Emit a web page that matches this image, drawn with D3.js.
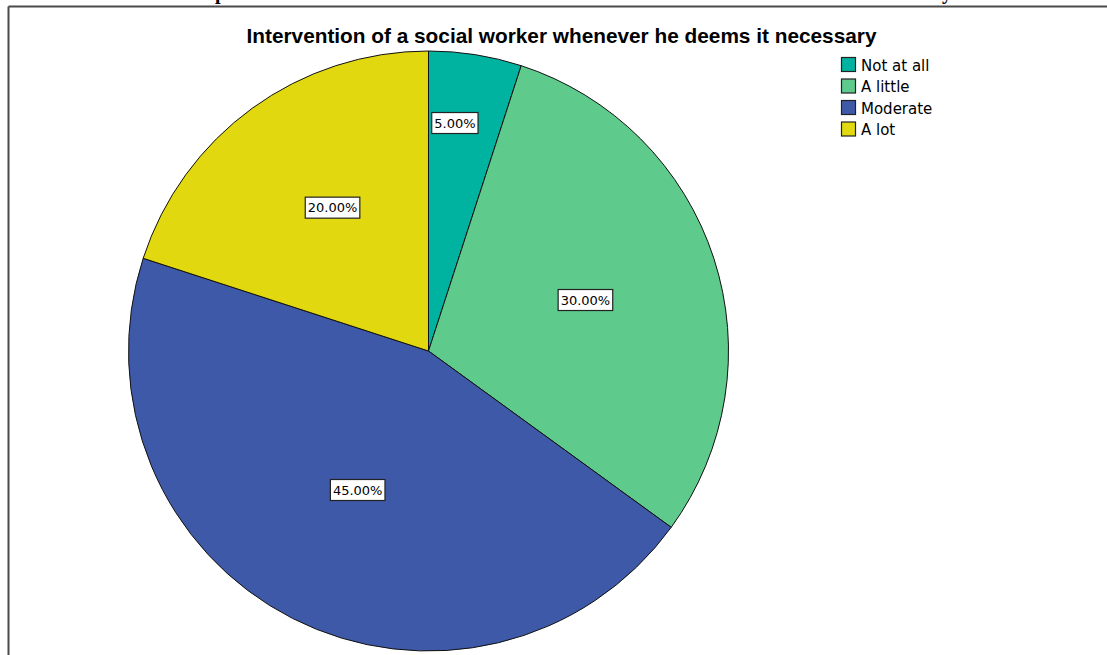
<!DOCTYPE html>
<html>
<head>
<meta charset="utf-8">
<script src="https://cdn.jsdelivr.net/npm/d3@7"></script>
<style>
  html, body { margin: 0; padding: 0; background: #fff; }
  svg { display: block; }
</style>
</head>
<body>
<svg id="chart" width="1107" height="655"></svg>
<script>
// Chart data
const title = "Intervention of a social worker whenever he deems it necessary";
const categories = ["Not at all", "A little", "Moderate", "A lot"];
const percents = [5, 30, 45, 20];
const colors = ["#00b3a0", "#5eca8c", "#3e59a8", "#e2d80f"];

// Label placement per slice: distance from centre (fraction of radius)
// and a small angular nudge (degrees) from the slice's mid-angle
const labelRadiusFrac = [0.765, 0.55, 0.52, 0.575];
const labelAngleNudge = [-2.4, 0, 0, 2.2];

const W = 1107, H = 655;
const svg = d3.select("#chart");

// Frame of the embedded chart
svg.append("line").attr("x1", 8.5).attr("y1", 6.5).attr("x2", W + 2).attr("y2", 6.5)
  .attr("stroke", "#4a4a4a").attr("stroke-width", 2);
svg.append("line").attr("x1", 8.5).attr("y1", 6.5).attr("x2", 8.5).attr("y2", H + 2)
  .attr("stroke", "#4a4a4a").attr("stroke-width", 2);

// Descenders of the line of body text just above the frame
svg.append("text").attr("x", 215).attr("y", -1).text("p")
  .attr("font-family", "Liberation Serif, serif").attr("font-weight", "bold").attr("font-size", 20);
svg.append("text").attr("x", 942).attr("y", -1).text("y")
  .attr("font-family", "Liberation Serif, serif").attr("font-weight", "bold").attr("font-size", 20);

// Title
svg.append("text")
  .attr("x", 561.5).attr("y", 43)
  .attr("text-anchor", "middle")
  .attr("font-family", "Liberation Sans, Arial, sans-serif")
  .attr("font-weight", "bold")
  .attr("font-size", 20.8)
  .attr("fill", "#000")
  .text(title);

// Pie
const cx = 428.5, cy = 351, r = 300;
const data = categories.map((c, i) => ({ cat: c, value: percents[i], color: colors[i], idx: i }));
const pie = d3.pie().value(d => d.value).sort(null);
const arcs = pie(data);
const arc = d3.arc().innerRadius(0).outerRadius(r);

const g = svg.append("g").attr("transform", `translate(${cx},${cy})`);
g.selectAll("path.slice")
  .data(arcs)
  .join("path")
  .attr("class", "slice")
  .attr("d", arc)
  .attr("fill", d => d.data.color)
  .attr("stroke", "#111")
  .attr("stroke-width", 1)
  .attr("stroke-linejoin", "round");

// Percentage labels in white boxes
const labels = g.selectAll("g.lbl")
  .data(arcs)
  .join("g")
  .attr("class", "lbl")
  .attr("transform", d => {
    const a = (d.startAngle + d.endAngle) / 2 + labelAngleNudge[d.data.idx] * Math.PI / 180;
    const lr = r * labelRadiusFrac[d.data.idx];
    return `translate(${lr * Math.sin(a)},${-lr * Math.cos(a)})`;
  });

labels.each(function(d) {
  const sel = d3.select(this);
  const txt = sel.append("text")
    .attr("text-anchor", "middle")
    .attr("dy", "0.36em")
    .attr("font-family", "DejaVu Sans, sans-serif")
    .attr("font-size", 13)
    .attr("fill", "#000")
    .text(d3.format(".2f")(d.data.value) + "%");
  const bb = txt.node().getBBox();
  sel.insert("rect", "text")
    .attr("x", -bb.width / 2 - 2.5)
    .attr("y", -10.5)
    .attr("width", bb.width + 5)
    .attr("height", 21)
    .attr("fill", "#fff")
    .attr("stroke", "#222")
    .attr("stroke-width", 1.2);
});

// Legend
const legend = svg.append("g").attr("transform", "translate(841,57)");
const rowH = 21.5;
const items = legend.selectAll("g.item")
  .data(data)
  .join("g")
  .attr("class", "item")
  .attr("transform", (d, i) => `translate(0,${i * rowH})`);
items.append("rect")
  .attr("x", 0.5).attr("y", 0.5)
  .attr("width", 14).attr("height", 14)
  .attr("fill", d => d.color)
  .attr("stroke", "#222")
  .attr("stroke-width", 1.2);
items.append("text")
  .attr("x", 20).attr("y", 13.5)
  .attr("font-family", "DejaVu Sans, sans-serif")
  .attr("font-size", 15)
  .attr("fill", "#000")
  .text(d => d.cat);
</script>
</body>
</html>
